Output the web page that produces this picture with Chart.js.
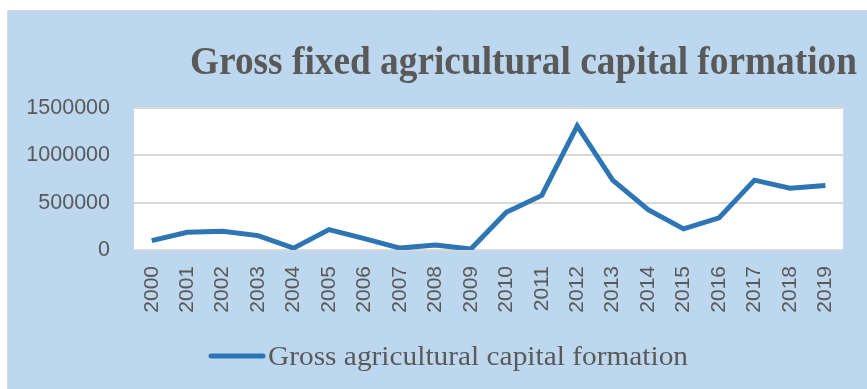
<!DOCTYPE html>
<html>
<head>
<meta charset="utf-8">
<script src="https://cdn.jsdelivr.net/npm/chart.js@4.4.1/dist/chart.umd.min.js"></script>
<style>
  html, body { margin: 0; padding: 0; background: #ffffff; }
  #wrap { width: 867px; height: 389px; position: relative; }
</style>
</head>
<body>
<div id="wrap"><canvas id="chart" width="867" height="389"></canvas></div>
<script>
// Chart data
const years = ["2000", "2001", "2002", "2003", "2004", "2005", "2006", "2007", "2008", "2009",
               "2010", "2011", "2012", "2013", "2014", "2015", "2016", "2017", "2018", "2019"];
const capitalFormation = [99000, 187000, 197000, 152000, 20000, 215000, 120000, 20000, 53000, 10000,
                          399000, 576000, 1310000, 738000, 427000, 223000, 339000, 738000, 653000, 682000];
const yTicks = [0, 500000, 1000000, 1500000];
const chartTitle = "Gross fixed agricultural capital formation";
const seriesName = "Gross agricultural capital formation";

const lineColor = "#2E75B6";
const textColor = "#595959";

// draw text stretched/squeezed to an exact width
function fitText(ctx, text, x, y, width) {
  const w = ctx.measureText(text).width;
  ctx.save();
  ctx.translate(x, y);
  ctx.scale(width / w, 1);
  ctx.fillText(text, 0, 0);
  ctx.restore();
}

// Background, panel, title and legend drawn by hand
const decorPlugin = {
  id: "decor",
  beforeDraw(chart) {
    const ctx = chart.ctx;
    const area = chart.chartArea;
    ctx.save();
    ctx.fillStyle = "#ffffff";
    ctx.fillRect(0, 0, chart.width, chart.height);
    ctx.fillStyle = "#BDD7EE";
    ctx.fillRect(8, 11, chart.width - 8, chart.height - 11);
    ctx.strokeStyle = "#D9D9D9";
    ctx.lineWidth = 1;
    ctx.beginPath();
    ctx.moveTo(7.5, chart.height);
    ctx.lineTo(7.5, 10.5);
    ctx.lineTo(chart.width, 10.5);
    ctx.stroke();
    ctx.fillStyle = "#ffffff";
    ctx.fillRect(area.left, area.top, area.right - area.left, area.bottom - area.top);
    ctx.restore();
  },
  afterDraw(chart) {
    const ctx = chart.ctx;
    ctx.save();
    // title
    ctx.fillStyle = textColor;
    ctx.font = "bold 41px 'Liberation Serif'";
    ctx.textAlign = "left";
    ctx.textBaseline = "alphabetic";
    fitText(ctx, chartTitle, 190, 74, 667);
    // legend
    ctx.strokeStyle = lineColor;
    ctx.lineWidth = 5;
    ctx.lineCap = "round";
    ctx.beginPath();
    ctx.moveTo(211, 356);
    ctx.lineTo(263, 356);
    ctx.stroke();
    ctx.font = "27px 'Liberation Serif'";
    fitText(ctx, seriesName, 268, 365, 420);
    ctx.restore();
  }
};

const ctx = document.getElementById("chart").getContext("2d");
const chart = new Chart(ctx, {
  type: "line",
  data: {
    labels: years,
    datasets: [{
      label: seriesName,
      data: capitalFormation,
      borderColor: lineColor,
      backgroundColor: lineColor,
      borderWidth: 5,
      pointRadius: 0,
      tension: 0,
      borderJoinStyle: "miter"
    }]
  },
  options: {
    responsive: false,
    animation: false,
    devicePixelRatio: 1,
    layout: { padding: { left: 0, top: 108, right: 15, bottom: 0 } },
    plugins: {
      legend: { display: false },
      title: { display: false },
      tooltip: { enabled: false }
    },
    scales: {
      x: {
        offset: true,
        grid: { display: false, drawTicks: false },
        border: { display: true, color: "#D9D9D9", width: 2 },
        ticks: {
          color: textColor,
          font: { family: "'Liberation Sans'", size: 21 },
          minRotation: 90,
          maxRotation: 90,
          padding: 16,
          autoSkip: false
        },
        afterFit(scale) { scale.height = 139; }
      },
      y: {
        min: 0,
        max: 1500000,
        afterBuildTicks(scale) { scale.ticks = yTicks.map(v => ({ value: v })); },
        grid: { color: "#D9D9D9", lineWidth: 2, drawTicks: false },
        border: { display: false },
        ticks: {
          color: textColor,
          font: { family: "'Liberation Sans'", size: 21.5 },
          padding: 24,
          callback: v => String(v)
        },
        afterFit(scale) { scale.width = 134; }
      }
    }
  },
  plugins: [decorPlugin]
});
</script>
</body>
</html>
